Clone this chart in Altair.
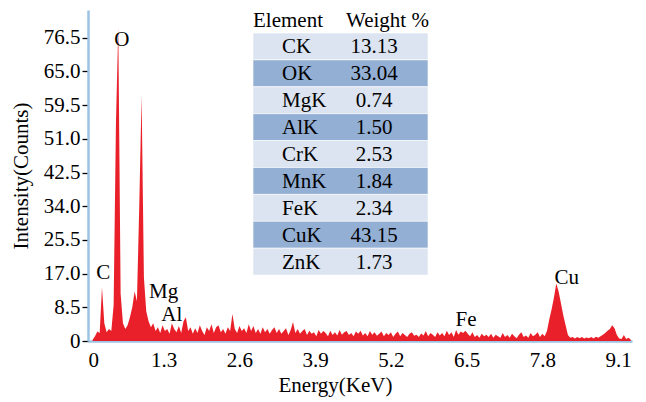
import json
import altair as alt
import pandas as pd

# ---------------- data ----------------
E_START = 0.08
E_STEP = 0.04
counts = [
    0.3, 1.2, 2.4, 2.0, 13.5, 4.5, 2.2, 3.0, 2.5, 9.0,      # 0.08 - 0.44
    55, 79, 12, 4.5, 3.0, 4.0, 6.0, 8.5, 12.5, 10.0,        # 0.48 - 0.84
    34, 62, 16, 7.5, 5.0, 3.5, 4.5, 2.5, 3.5, 2.0,          # 0.88 - 1.24
    4.0, 2.5, 3.0, 1.8, 4.5, 3.0, 2.2, 3.8, 2.0, 5.0,       # 1.28 - 1.64
    6.0, 2.5, 3.5, 1.8, 3.2, 2.0, 4.0, 2.5, 1.5, 3.5,       # 1.68 - 2.04
    2.5, 4.2, 2.0, 3.5, 4.0, 2.2, 3.0, 1.8, 3.5, 2.5,       # 2.08 - 2.44
    6.8, 3.0, 2.0, 3.8, 2.5, 3.2, 2.0, 4.2, 2.5, 3.8,       # 2.48 - 2.84
    2.0, 3.0, 1.8, 3.5, 2.2, 3.0, 1.8, 2.8, 3.5, 2.0,       # 2.88 - 3.24
    3.0, 1.8, 2.5, 3.2, 1.5, 2.8, 4.8, 2.0, 3.0, 1.8,       # 3.28 - 3.64
    2.5, 3.0, 1.5, 2.6, 1.8, 2.2, 1.2, 2.8, 1.8, 2.5,       # 3.68 - 4.04
    2.0, 1.2, 2.6, 1.5, 2.2, 1.4, 2.8, 1.6, 2.2, 2.5,       # 4.08 - 4.44
    1.5, 2.0, 1.2, 2.4, 1.8, 2.6, 1.4, 2.0, 1.2, 2.5,       # 4.48 - 4.84
    1.6, 2.2, 1.3, 1.8, 2.4, 1.2, 2.0, 1.5, 2.2, 1.0,       # 4.88 - 5.24
    1.8, 2.4, 1.2, 2.0, 1.5, 1.0, 1.8, 2.2, 1.3, 1.6,       # 5.28 - 5.64
    1.0, 1.9, 1.4, 2.5, 1.2, 2.0, 1.6, 1.0, 2.2, 1.4,       # 5.68 - 6.04
    2.0, 1.2, 2.6, 1.5, 2.2, 1.0, 2.8, 1.6, 2.4, 2.0,       # 6.08 - 6.44
    2.6, 1.8, 1.2, 2.2, 1.0, 1.5, 0.8, 1.8, 1.2, 1.6,       # 6.48 - 6.84
    1.0, 1.8, 0.8, 1.6, 1.2, 0.8, 2.0, 1.0, 1.5, 0.8,       # 6.88 - 7.24
    1.8, 1.2, 0.7, 1.6, 2.2, 1.0, 1.4, 0.8, 2.0, 1.2,       # 7.28 - 7.64
    1.6, 2.2, 1.0, 1.8, 1.2, 2.5, 5.5, 8.0, 11.0, 14.5,     # 7.68 - 8.04
    12.5, 9.5, 6.5, 4.0, 1.5, 0.8, 1.0, 0.6, 1.0, 0.7,      # 8.08 - 8.44
    1.0, 0.6, 0.9, 0.7, 1.0, 0.6, 1.1, 0.8, 1.2, 1.6,       # 8.48 - 8.84
    2.0, 2.6, 3.0, 4.0, 3.2, 1.5, 0.6, 0.5, 1.5, 0.5,       # 8.88 - 9.24
    0.8, 0.3,                                               # 9.28 - 9.32
]
energies = [round(E_START + i * E_STEP, 2) for i in range(len(counts))]

y_ticks = [0, 8.5, 17, 25.5, 34, 42.5, 51, 59.5, 68, 76.5]
y_tick_labels = ["0", "8.5", "17.0", "25.5", "34.0", "42.5", "51.0", "59.5", "65.0", "76.5"]
x_ticks = [0, 1.3, 2.6, 3.9, 5.2, 6.5, 7.8, 9.1]
x_tick_labels = ["0", "1.3", "2.6", "3.9", "5.2", "6.5", "7.8", "9.1"]

peak_names = ["O", "C", "Mg", "Al", "Fe", "Cu"]
peak_x = [0.58, 0.26, 1.30, 1.44, 6.49, 8.22]
peak_y = [75.9, 17.2, 12.4, 6.6, 5.3, 15.9]

elements = ["CK", "OK", "MgK", "AlK", "CrK", "MnK", "FeK", "CuK", "ZnK"]
weights = ["13.13", "33.04", "0.74", "1.50", "2.53", "1.84", "2.34", "43.15", "1.73"]

# ---------------- style ----------------
FONT = "Liberation Serif"
FS = 21
RED = "#e8141e"
AXIS_BLUE = "#9cc3e5"
ROW_LIGHT = "#dbe4f0"
ROW_DARK = "#93afd4"
W, H = 544, 331
X_MAX, Y_MAX = 9.34, 83.5

spec = pd.DataFrame({"energy": energies, "counts": counts})
peaks = pd.DataFrame({"name": peak_names, "x": peak_x, "y": peak_y})

# table layout (pixels inside plot area)
TBL_LEFT, TBL_RIGHT = 165, 340
TBL_TOP, ROW_H = 23, 26.9
table = pd.DataFrame({"element": elements, "weight": weights})
table["i"] = range(len(table))
table["x1"] = TBL_LEFT
table["x2"] = TBL_RIGHT
table["y1"] = TBL_TOP + table["i"] * ROW_H
table["y2"] = table["y1"] + ROW_H
table["yc"] = table["y1"] + ROW_H / 2 + 1
table["xe"] = 194
table["xw"] = 286

header = pd.DataFrame({"label": ["Element", "Weight %"], "px": [165, 258], "py": [10.5, 10.5]})

x_scale = alt.Scale(domain=[0, X_MAX], nice=False, zero=False)
y_scale = alt.Scale(domain=[0, Y_MAX], nice=False)

y_label_expr = f"{json.dumps(y_tick_labels)}[indexof({json.dumps(y_ticks)}, datum.value)]"
x_label_expr = f"{json.dumps(x_tick_labels)}[indexof({json.dumps(x_ticks)}, datum.value)]"

x_axis = alt.Axis(values=x_ticks, labelExpr=x_label_expr, title="Energy(KeV)",
                  ticks=False, labelPadding=8, labelOverlap=False,
                  titleX=247, titleY=50, titleAlign="center", titleBaseline="alphabetic")
y_axis = alt.Axis(values=y_ticks, labelExpr=y_label_expr, title="Intensity(Counts)",
                  tickSize=6, tickColor="black", tickWidth=1.3, labelPadding=2,
                  titlePadding=12, labelOverlap=False)

area = alt.Chart(spec).mark_area(color=RED, interpolate="linear", clip=True, opacity=0.95).encode(
    x=alt.X("energy:Q", scale=x_scale, axis=x_axis),
    y=alt.Y("counts:Q", scale=y_scale, axis=y_axis),
)

peak_text = alt.Chart(peaks).mark_text(font=FONT, fontSize=FS, color="black",
                                       align="center", baseline="middle").encode(
    x=alt.X("x:Q", scale=x_scale, axis=x_axis), y=alt.Y("y:Q", scale=y_scale, axis=y_axis),
    text="name:N"
)

rows = alt.Chart(table).mark_rect(stroke="white", strokeWidth=0.6).encode(
    x=alt.X("x1:Q", scale=None, axis=None), x2="x2:Q",
    y=alt.Y("y1:Q", scale=None, axis=None), y2="y2:Q",
    color=alt.condition("datum.i % 2 == 1", alt.value(ROW_DARK), alt.value(ROW_LIGHT)),
)
el_text = alt.Chart(table).mark_text(font=FONT, fontSize=FS, color="black",
                                     align="left", baseline="middle").encode(
    x=alt.X("xe:Q", scale=None, axis=None), y=alt.Y("yc:Q", scale=None, axis=None), text="element:N"
)
wt_text = alt.Chart(table).mark_text(font=FONT, fontSize=FS, color="black",
                                     align="center", baseline="middle").encode(
    x=alt.X("xw:Q", scale=None, axis=None), y=alt.Y("yc:Q", scale=None, axis=None), text="weight:N"
)
hdr_text = alt.Chart(header).mark_text(font=FONT, fontSize=FS, color="black",
                                       align="left", baseline="middle").encode(
    x=alt.X("px:Q", scale=None, axis=None), y=alt.Y("py:Q", scale=None, axis=None), text="label:N"
)

chart = alt.layer(area, rows, el_text, wt_text, hdr_text, peak_text).properties(
    width=W, height=H,
    autosize=alt.AutoSizeParams(type="none"),
    padding={"left": 80, "top": 2, "right": 6, "bottom": 57},
    background="white",
).configure_view(strokeWidth=0).configure_axis(
    grid=False, labelOverlap=False,
    domainColor=AXIS_BLUE, domainWidth=2.5,
    labelFont=FONT, labelFontSize=FS, labelColor="black",
    titleFont=FONT, titleFontSize=FS, titleFontWeight="normal", titleColor="black",
)

chart.save("out.html", embed_options={"renderer": "svg", "actions": False})
